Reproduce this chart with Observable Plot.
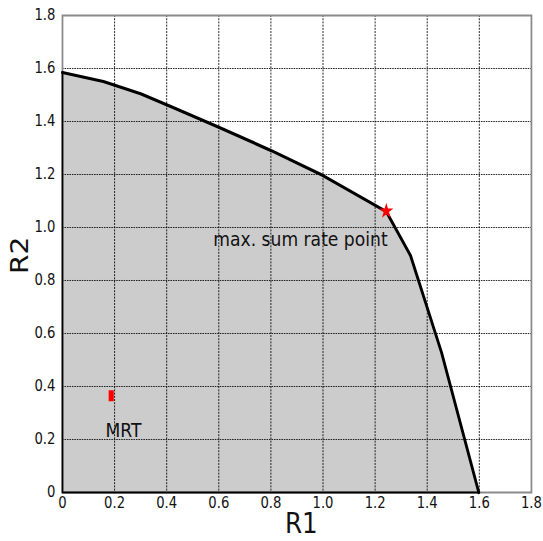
<!DOCTYPE html>
<html>
<head>
<meta charset="utf-8">
<script src="https://cdn.jsdelivr.net/npm/d3@7"></script>
<script src="https://cdn.jsdelivr.net/npm/@observablehq/plot@0.6"></script>
<style>
  html, body { margin: 0; padding: 0; background: #fff; overflow: hidden; }
  #wrap { width: 543px; height: 541px; overflow: hidden; position: relative; }
  #wrap svg { display: block; max-width: none !important; transform: scaleX(0.88); transform-origin: 0 0; }
</style>
</head>
<body>
<div id="wrap"></div>
<script>
// Rate region boundary (R1, R2)
const curveR1 = [0, 0.157, 0.3, 0.42, 0.6, 0.8, 1.0, 1.243, 1.336, 1.455, 1.598];
const curveR2 = [1.585, 1.551, 1.505, 1.455, 1.378, 1.291, 1.196, 1.06, 0.894, 0.528, 0];

// Special points
const sumRateR1 = [1.243];
const sumRateR2 = [1.062];
const mrtR1 = [0.187];
const mrtR2 = [0.365];

// Annotation texts
const annotText = ["max. sum rate point", "MRT"];
const annotR1 = [0.579, 0.234];
const annotR2 = [0.955, 0.233];

// Ticks
const tickValues = [0, 0.2, 0.4, 0.6, 0.8, 1.0, 1.2, 1.4, 1.6, 1.8];
const gridValues = [0.2, 0.4, 0.6, 0.8, 1.0, 1.2, 1.4, 1.6];
const xLabel = "R1";
const yLabel = "R2";

const curve = curveR1.map((x, i) => ({x, y: curveR2[i]}));
const edges = [
  {x: curveR1[0], y: curveR2[0]},
  {x: 0, y: 0},
  {x: curveR1[curveR1.length - 1], y: 0}
];
const star = sumRateR1.map((x, i) => ({x, y: sumRateR2[i]}));
const mrt = mrtR1.map((x, i) => ({x, y: mrtR2[i]}));
const annots = annotText.map((t, i) => ({t, x: annotR1[i], y: annotR2[i]}));

const fmt = d => d === 0 ? "0" : d.toFixed(1);
const rectSymbol = {
  draw(ctx, size) { ctx.rect(-2.9, -5.5, 5.8, 11); }
};

const W = 543 / 0.88;

const chart = Plot.plot({
  width: W,
  height: 541,
  marginLeft: 70.5,
  marginRight: W - 531 / 0.88,
  marginTop: 15,
  marginBottom: 49,
  style: {fontFamily: "'DejaVu Sans', sans-serif", background: "#fff"},
  x: {domain: [0, 1.8]},
  y: {domain: [0, 1.8]},
  marks: [
    Plot.areaY(curve, {x: "x", y: "y", fill: "#cccccc"}),
    Plot.gridX(gridValues, {stroke: "#000", strokeOpacity: 0.9, strokeDasharray: "2,1.2", strokeWidth: 1}),
    Plot.gridY(gridValues, {stroke: "#000", strokeOpacity: 0.9, strokeDasharray: "1.8,1", strokeWidth: 1}),
    Plot.frame({stroke: "#8a8a8a", strokeWidth: 2}),
    Plot.line(edges, {x: "x", y: "y", stroke: "#000", strokeWidth: 2}),
    Plot.line(curve, {x: "x", y: "y", stroke: "#000", strokeWidth: 3.2, strokeLinejoin: "round"}),
    Plot.dot(star, {x: "x", y: "y", symbol: "star", r: 5, fill: "#ff0000", stroke: "none"}),
    Plot.dot(mrt, {x: "x", y: "y", symbol: rectSymbol, fill: "#ff0000", stroke: "none"}),
    Plot.text(annots.slice(0, 1), {x: "x", y: "y", text: "t", textAnchor: "start", fontSize: 19.5, fill: "#111"}),
    Plot.text(annots.slice(1), {x: "x", y: "y", text: "t", textAnchor: "middle", fontSize: 19.5, fill: "#111"}),
    Plot.axisX(tickValues, {tickSize: 0, tickPadding: 5, tickFormat: fmt, fontSize: 15, label: null, fill: "#111"}),
    Plot.axisY(tickValues, {tickSize: 0, tickPadding: 8, tickFormat: fmt, fontSize: 15, label: null, fill: "#111"}),
    Plot.text([xLabel], {frameAnchor: "bottom", lineAnchor: "top", dy: 21, dx: 5, fontSize: 28, fill: "#111"}),
    Plot.text([yLabel], {frameAnchor: "left", rotate: -90, lineAnchor: "middle", dx: -48, dy: 20, fontSize: 28, fill: "#111"})
  ]
});
chart.style.width = W + "px";
chart.style.height = "541px";
document.getElementById("wrap").appendChild(chart);
</script>
</body>
</html>
